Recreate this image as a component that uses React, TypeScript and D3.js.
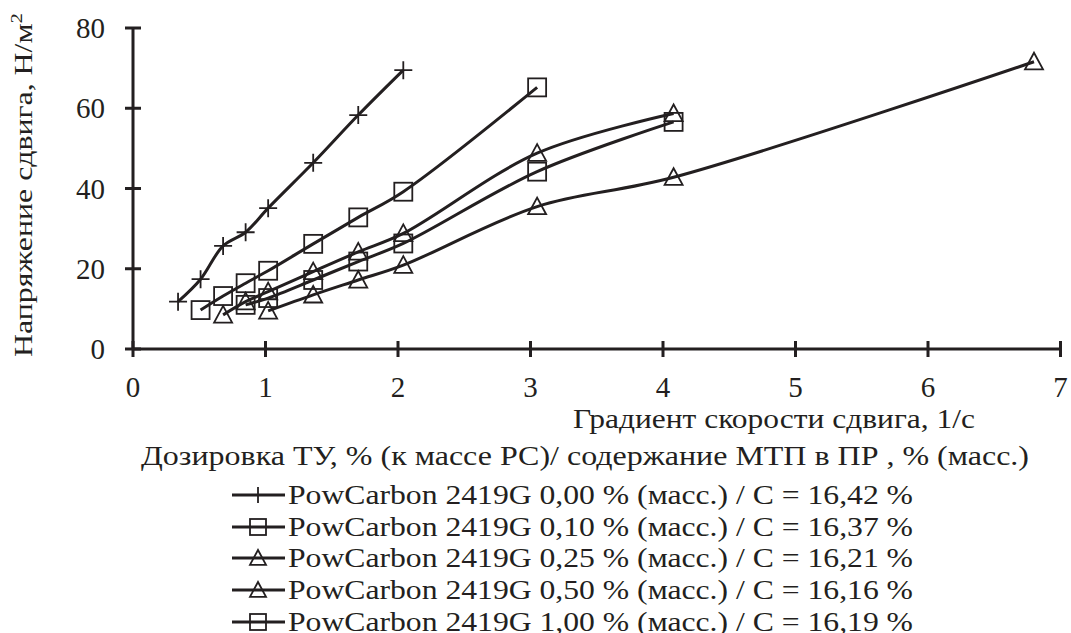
import React from 'react';
import * as d3 from 'd3';

// shear rate (1/s) and shear stress (N/m2)
const rates0 = [0.34, 0.51, 0.68, 0.85, 1.02, 1.36, 1.70, 2.04];
const stress0 = [11.8, 17.4, 25.7, 29.1, 35.1, 46.4, 58.3, 69.5];

const rates10 = [0.51, 0.68, 0.85, 1.02, 1.36, 1.70, 2.04, 3.05];
const stress10 = [9.7, 13.2, 16.4, 19.5, 26.2, 32.8, 39.2, 65.2];

const rates25 = [0.68, 0.85, 1.02, 1.36, 1.70, 2.04, 3.05, 4.08];
const stress25 = [8.5, 11.8, 14.3, 19.3, 24.2, 28.8, 48.8, 58.7];

const rates50 = [1.02, 1.36, 1.70, 2.04, 3.05, 4.08, 6.80];
const stress50 = [9.5, 13.5, 17.2, 20.9, 35.5, 42.8, 71.6];

const rates100 = [0.85, 1.02, 1.36, 1.70, 2.04, 3.05, 4.08];
const stress100 = [11.0, 12.7, 17.2, 21.8, 26.3, 44.2, 56.6];

const xTicks = [0, 1, 2, 3, 4, 5, 6, 7];
const yTicks = [0, 20, 40, 60, 80];

const seriesNames = [
  'PowCarbon 2419G 0,00 % (масс.) / С = 16,42 %',
  'PowCarbon 2419G 0,10 % (масс.) / С = 16,37 %',
  'PowCarbon 2419G 0,25 % (масс.) / С = 16,21 %',
  'PowCarbon 2419G 0,50 % (масс.) / С = 16,16 %',
  'PowCarbon 2419G 1,00 % (масс.) / С = 16,19 %',
];
const seriesMarkers = ['plus', 'square', 'triangle', 'triangle', 'square'];
const seriesRates = [rates0, rates10, rates25, rates50, rates100];
const seriesStress = [stress0, stress10, stress25, stress50, stress100];

const ink = '#231f20';
const font = '"Liberation Serif", "Times New Roman", serif';

const Marker = ({ type, x, y, s }: { type: string; x: number; y: number; s: number }) => {
  const h = s / 2;
  if (type === 'plus') {
    return (
      <path d={`M${x - h},${y}H${x + h}M${x},${y - h}V${y + h}`} stroke={ink} strokeWidth={1.8} fill="none" />
    );
  }
  if (type === 'square') {
    return <rect x={x - h} y={y - h} width={s} height={s} stroke={ink} strokeWidth={1.8} fill="none" />;
  }
  return (
    <path d={`M${x},${y - h}L${x + h},${y + h * 0.85}L${x - h},${y + h * 0.85}Z`} stroke={ink} strokeWidth={1.8} fill="none" />
  );
};

export default function App() {
  const x = d3.scaleLinear().domain([0, 7]).range([133, 1060.5]);
  const y = d3.scaleLinear().domain([0, 80]).range([349, 28]);

  const line = d3
    .line<[number, number]>()
    .x((d) => x(d[0]))
    .y((d) => y(d[1]))
    .curve(d3.curveCatmullRom.alpha(0.5));

  const legendRows = [495, 527, 558, 590, 622];

  return (
    <svg width={1071} height={633} style={{ position: 'absolute', left: 0, top: 0, background: '#fff' }} fontFamily={font}>
      <rect width={1071} height={633} fill="#fff" />

      {/* series lines */}
      {seriesRates.map((rs, i) => (
        <path
          key={'l' + i}
          d={line(rs.map((r, j) => [r, seriesStress[i][j]]) as [number, number][]) || ''}
          fill="none"
          stroke={ink}
          strokeWidth={3}
        />
      ))}

      {/* markers */}
      {seriesRates.map((rs, i) =>
        rs.map((r, j) => (
          <Marker key={`m${i}-${j}`} type={seriesMarkers[i]} x={x(r)} y={y(seriesStress[i][j])} s={18} />
        ))
      )}

      {/* axes */}
      <line x1={x(0)} x2={x(7)} y1={y(0)} y2={y(0)} stroke={ink} strokeWidth={3} />
      <line x1={x(0)} x2={x(0)} y1={y(0)} y2={y(80)} stroke={ink} strokeWidth={3} />
      {xTicks.map((t) => (
        <g key={'xt' + t}>
          <line x1={x(t)} x2={x(t)} y1={y(0) - 8} y2={y(0) + 8} stroke={ink} strokeWidth={3} />
          <text x={x(t)} y={397} textAnchor="middle" fontSize={29} fill={ink}>
            {t}
          </text>
        </g>
      ))}
      {yTicks.map((t) => (
        <g key={'yt' + t}>
          <line x1={x(0) - 8} x2={x(0) + 8} y1={y(t)} y2={y(t)} stroke={ink} strokeWidth={3} />
          <text x={105} y={y(t) + 10} textAnchor="end" fontSize={29} fill={ink}>
            {t}
          </text>
        </g>
      ))}

      {/* axis titles */}
      <text x={573} y={428} fontSize={27} fill={ink} textLength={402} lengthAdjust="spacingAndGlyphs">
        Градиент скорости сдвига, 1/с
      </text>
      <text
        transform="translate(32,357) rotate(-90)"
        fontSize={26}
        fill={ink}
        textLength={344}
        lengthAdjust="spacingAndGlyphs"
      >
        Напряжение сдвига, Н/м
        <tspan fontSize={17} dy={-10}>
          2
        </tspan>
      </text>

      {/* legend */}
      <text x={141} y={465} fontSize={27} fill={ink} textLength={888} lengthAdjust="spacingAndGlyphs">
        Дозировка ТУ, % (к массе РС)/ содержание МТП в ПР , % (масс.)
      </text>
      {seriesNames.map((n, i) => (
        <g key={'lg' + i}>
          <line x1={232} x2={285} y1={legendRows[i]} y2={legendRows[i]} stroke={ink} strokeWidth={3} />
          <Marker type={seriesMarkers[i]} x={258} y={legendRows[i]} s={16} />
          <text x={288} y={legendRows[i] + 9} fontSize={27} fill={ink} textLength={625} lengthAdjust="spacingAndGlyphs">
            {n}
          </text>
        </g>
      ))}
    </svg>
  );
}
